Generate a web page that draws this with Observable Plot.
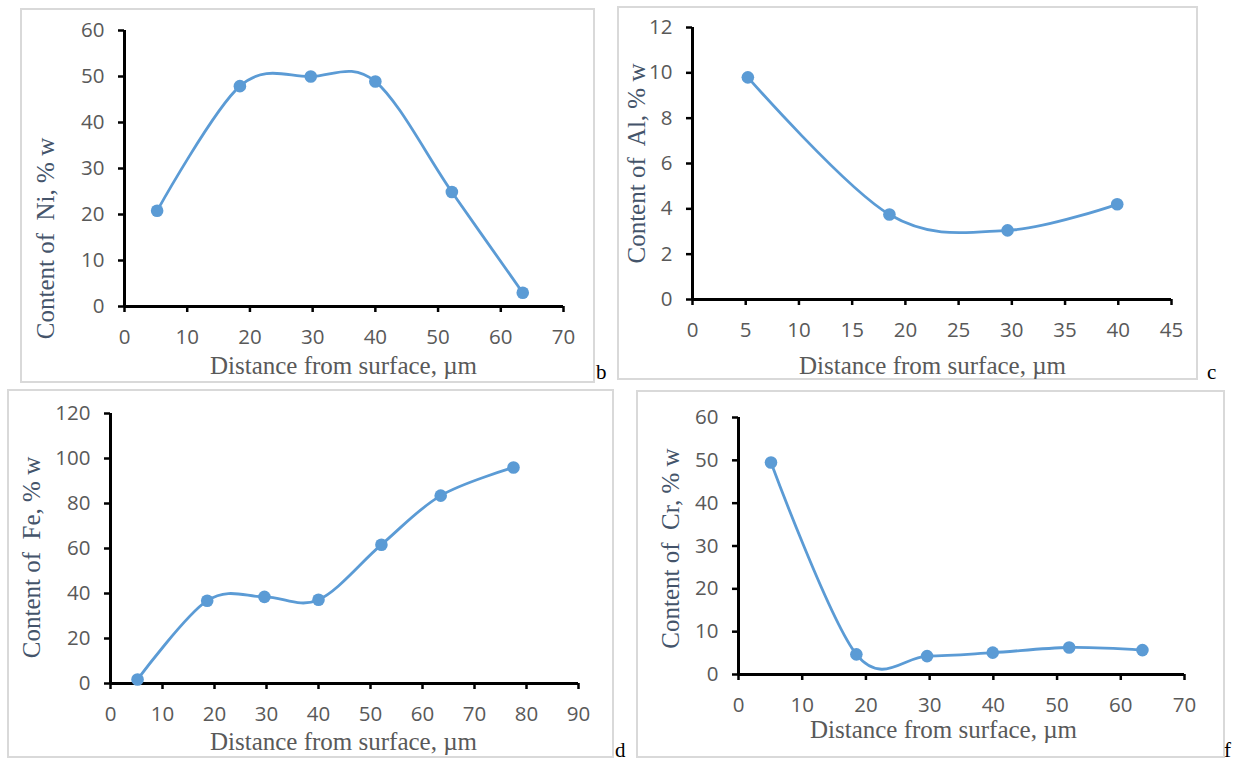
<!DOCTYPE html>
<html>
<head>
<meta charset="utf-8">
<script src="https://cdn.jsdelivr.net/npm/d3@7"></script>
<script src="https://cdn.jsdelivr.net/npm/@observablehq/plot@0.6"></script>
<style>
  html, body { margin: 0; padding: 0; background: #fff; }
  #page { position: relative; width: 1240px; height: 761px; overflow: hidden; background: #fff; }
  .panel { position: absolute; outline: 2px solid #d9d9d9; outline-offset: -2px; background: #fff; }
  .letter { position: absolute; font-family: "Liberation Serif", "Times New Roman", serif; font-size: 21px; color: #000; line-height: 1; }
</style>
</head>
<body>
<div id="page"></div>
<script>
// ---- data ----
const xLabel = "Distance from surface, µm";

const niX = [5.2, 18.4, 29.7, 40.0, 52.2, 63.5];
const niY = [20.8, 47.9, 50.0, 48.9, 24.9, 3.0];
const niTicksX = [0, 10, 20, 30, 40, 50, 60, 70];
const niTicksY = [0, 10, 20, 30, 40, 50, 60];

const alX = [5.2, 18.5, 29.6, 39.9];
const alY = [9.8, 3.75, 3.05, 4.2];
const alTicksX = [0, 5, 10, 15, 20, 25, 30, 35, 40, 45];
const alTicksY = [0, 2, 4, 6, 8, 10, 12];

const feX = [5.2, 18.6, 29.6, 40.0, 52.1, 63.5, 77.5];
const feY = [1.8, 36.8, 38.5, 37.2, 61.7, 83.5, 96.0];
const feTicksX = [0, 10, 20, 30, 40, 50, 60, 70, 80, 90];
const feTicksY = [0, 20, 40, 60, 80, 100, 120];

const crX = [5.1, 18.5, 29.6, 39.9, 51.9, 63.4];
const crY = [49.5, 4.7, 4.3, 5.1, 6.3, 5.7];
const crTicksX = [0, 10, 20, 30, 40, 50, 60, 70];
const crTicksY = [0, 10, 20, 30, 40, 50, 60];

// ---- layout ----
const panels = [
  {xs: niX, ys: niY, tx: niTicksX, ty: niTicksY, yLabel: "Content of  Ni, % w", letter: "b",
   left: 20, top: 8, w: 575, h: 375, ml: 104, mr: 32, mt: 22, mb: 77,
   yl: [25, 230], xl: [323, 357], lp: [596, 362]},
  {xs: alX, ys: alY, tx: alTicksX, ty: alTicksY, yLabel: "Content of  Al, % w", letter: "c",
   left: 617, top: 6, w: 581, h: 374, ml: 75, mr: 27, mt: 21, mb: 81,
   yl: [19, 157], xl: [315, 359], lp: [1207, 362]},
  {xs: feX, ys: feY, tx: feTicksX, ty: feTicksY, yLabel: "Content of  Fe, % w", letter: "d",
   left: 7, top: 389, w: 607, h: 369, ml: 103, mr: 36, mt: 24, mb: 75,
   yl: [24, 168], xl: [336, 352], lp: [615, 740]},
  {xs: crX, ys: crY, tx: crTicksX, ty: crTicksY, yLabel: "Content of  Cr, % w", letter: "f",
   left: 636, top: 390, w: 589, h: 368, ml: 102, mr: 41, mt: 27, mb: 84,
   yl: [34, 158], xl: [307, 339], lp: [1224, 740]}
];

const blue = "#5B9BD5";
const tickFont = "'Open Sans', 'Liberation Sans', sans-serif";
const serif = "'Liberation Serif', 'Times New Roman', serif";
const page = document.getElementById("page");

for (const p of panels) {
  const data = p.xs.map((x, i) => ({x, y: p.ys[i]}));
  const xMax = p.tx[p.tx.length - 1], yMax = p.ty[p.ty.length - 1];
  const chart = Plot.plot({
    width: p.w, height: p.h,
    marginLeft: p.ml, marginRight: p.mr, marginTop: p.mt, marginBottom: p.mb,
    style: {background: "transparent", overflow: "visible"},
    x: {domain: [0, xMax]},
    y: {domain: [0, yMax]},
    marks: [
      Plot.axisX({ticks: p.tx, tickSize: 6, tickPadding: 17, stroke: "black", strokeWidth: 2.5,
        fill: "#595959", fontSize: 20.5, fontFamily: tickFont, label: null, tickFormat: d => String(d)}),
      Plot.axisY({ticks: p.ty, tickSize: 6, tickPadding: 14, stroke: "black", strokeWidth: 2.5,
        fill: "#595959", fontSize: 20.5, fontFamily: tickFont, label: null, tickFormat: d => String(d)}),
      Plot.ruleY([0], {stroke: "black", strokeWidth: 3}),
      Plot.ruleX([0], {stroke: "black", strokeWidth: 3}),
      Plot.line(data, {x: "x", y: "y", curve: "cardinal", tension: 0, stroke: blue, strokeWidth: 2.8}),
      Plot.dot(data, {x: "x", y: "y", r: 6.3, fill: blue, stroke: "none"}),
      Plot.text([xLabel], {text: d => d, frameAnchor: "top-left", dx: p.xl[0] - p.ml, dy: p.xl[1] - p.mt,
        textAnchor: "middle", lineAnchor: "middle", fontSize: 25, fontFamily: serif, fill: "#595959"}),
      Plot.text([p.yLabel], {text: d => d, frameAnchor: "top-left", dx: p.yl[0] - p.ml, dy: p.yl[1] - p.mt,
        rotate: -90, textAnchor: "middle", lineAnchor: "middle", fontSize: 25, fontFamily: serif, fill: "#44546A"})
    ]
  });
  const holder = document.createElement("div");
  holder.className = "panel";
  holder.style.left = p.left + "px";
  holder.style.top = p.top + "px";
  holder.style.width = p.w + "px";
  holder.style.height = p.h + "px";
  chart.style.position = "absolute";
  chart.style.left = "0px";
  chart.style.top = "0px";
  holder.appendChild(chart);
  page.appendChild(holder);

  const letter = document.createElement("div");
  letter.className = "letter";
  letter.textContent = p.letter;
  letter.style.left = p.lp[0] + "px";
  letter.style.top = p.lp[1] + "px";
  page.appendChild(letter);
}
</script>
</body>
</html>
